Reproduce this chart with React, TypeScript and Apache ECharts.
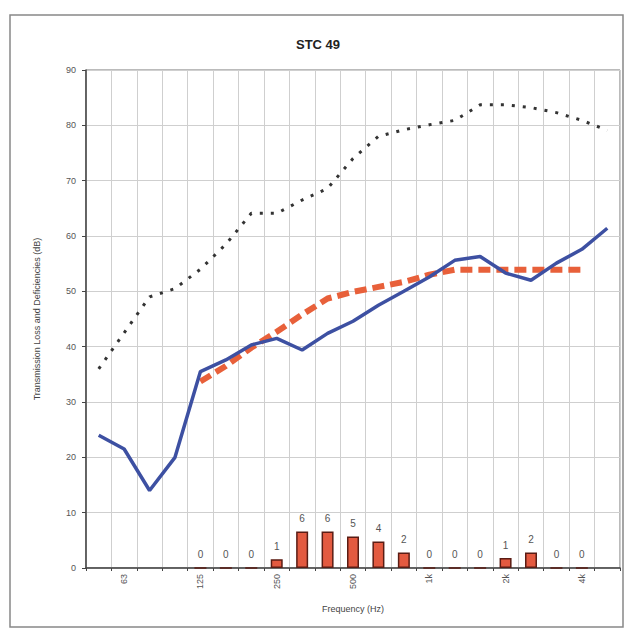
import React, { useEffect, useRef } from "react";
import * as echarts from "echarts";

const categories = ["50", "63", "80", "100", "125", "160", "200", "250", "315", "400", "500", "630", "800", "1k", "1.25k", "1.6k", "2k", "2.5k", "3.15k", "4k", "5k"];
const transmissionLoss = [24, 21.5, 14, 20, 35.5, 37.6, 40.3, 41.5, 39.4, 42.4, 44.6, 47.5, 50, 52.6, 55.6, 56.3, 53.3, 52, 55.1, 57.6, 61.4];
const stcContour = [null, null, null, null, 33.7, 36.5, 39.8, 42.7, 45.8, 48.7, 49.9, 50.8, 51.7, 53, 53.9, 53.9, 53.9, 53.9, 53.9, 53.9, null];
const upperCurve = [36, 42.5, 49, 50.5, 54, 58.5, 64.1, 64.1, 66.5, 68.6, 74, 78, 79.2, 80.1, 80.9, 83.7, 83.7, 83.2, 82.3, 80.9, 79.1];
const deficiencies = [null, null, null, null, 0, 0, 0, 1.6, 6.6, 6.6, 5.7, 4.8, 2.8, 0, 0, 0, 1.8, 2.8, 0, 0, null];
const deficiencyLabels = ["", "", "", "", "0", "0", "0", "1", "6", "6", "5", "4", "2", "0", "0", "0", "1", "2", "0", "0", ""];
const yTicks = { min: 0, max: 90, interval: 10 };

export default function App() {
  const ref = useRef<HTMLDivElement>(null);
  useEffect(() => {
    document.body.style.margin = "0";
    if (!ref.current) return;
    const chart = echarts.init(ref.current, null, { renderer: "svg" });
    const font = "Liberation Sans";
    chart.setOption({
      animation: false,
      backgroundColor: "#ffffff",
      textStyle: { fontFamily: font },
      title: {
        text: "STC 49",
        left: 313,
        top: 33,
        textAlign: "center",
        textStyle: { fontFamily: font, fontSize: 13, fontWeight: "bold", color: "#222" },
      },
      graphic: [
        {
          type: "rect",
          shape: { x: 10, y: 15, width: 613, height: 612 },
          style: { fill: "none", stroke: "#888", lineWidth: 1.5 },
          silent: true,
        },
      ],
      grid: { left: 86, right: 7, top: 70, bottom: 66, show: true, borderColor: "#777", borderWidth: 1, backgroundColor: "transparent" },
      xAxis: {
        type: "category",
        data: categories,
        boundaryGap: true,
        name: "Frequency (Hz)",
        nameLocation: "middle",
        nameGap: 36,
        nameTextStyle: { fontFamily: font, fontSize: 9, color: "#444" },
        axisLine: { lineStyle: { color: "#444", width: 1.5 } },
        axisTick: { show: true, interval: 0, alignWithLabel: false, length: 3, lineStyle: { color: "#444" } },
        axisLabel: {
          interval: (i: number) => i % 3 === 1,
          rotate: 90,
          fontSize: 9,
          color: "#555",
          margin: 6,
          fontFamily: font,
        },
        splitLine: { show: true, interval: 0, lineStyle: { color: "#cfcfcf", width: 1 } },
      },
      yAxis: {
        type: "value",
        min: yTicks.min,
        max: yTicks.max,
        interval: yTicks.interval,
        name: "Transmission Loss and Deficiencies (dB)",
        nameLocation: "middle",
        nameGap: 45,
        nameRotate: 90,
        nameTextStyle: { fontFamily: font, fontSize: 9, color: "#444" },
        axisLine: { show: true, lineStyle: { color: "#444", width: 1.5 } },
        axisTick: { show: true, length: 4, lineStyle: { color: "#444" } },
        axisLabel: { fontSize: 9, color: "#555", margin: 10, fontFamily: font },
        splitLine: { show: true, lineStyle: { color: "#cfcfcf", width: 1 } },
      },
      series: [
        {
          type: "bar",
          data: deficiencies.map((v, i) => ({
            value: v,
            label: { formatter: deficiencyLabels[i] },
          })),
          barWidth: 12,
          itemStyle: { color: "#e35a40", borderColor: "#5a1c14", borderWidth: 1.5 },
          label: { show: true, position: "top", distance: 8, fontSize: 10, color: "#555", fontFamily: font },
          z: 2,
        },
        {
          type: "line",
          data: upperCurve,
          symbol: "none",
          lineStyle: { color: "#333", width: 3, type: [3, 8], cap: "butt" },
          z: 3,
        },
        {
          type: "line",
          data: stcContour,
          symbol: "none",
          connectNulls: false,
          lineStyle: { color: "#e8603a", width: 6, type: [12, 6], cap: "butt" },
          z: 4,
        },
        {
          type: "line",
          data: transmissionLoss,
          symbol: "none",
          lineStyle: { color: "#3d50a2", width: 3.5 },
          z: 5,
        },
      ],
    });
    return () => chart.dispose();
  }, []);
  return <div ref={ref} style={{ width: 627, height: 634 }} />;
}
